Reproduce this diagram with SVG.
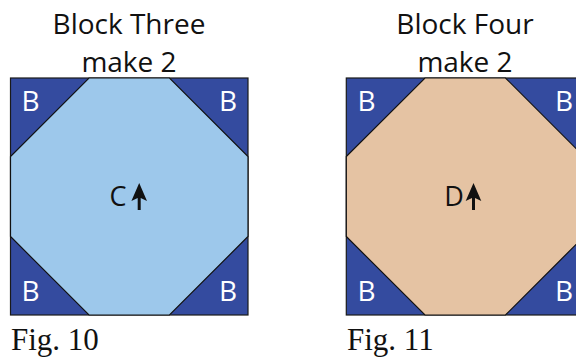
<svg xmlns="http://www.w3.org/2000/svg" width="576" height="358" viewBox="0 0 576 358">
<style>
.t{font-family:"Open Sans","Noto Sans",sans-serif;font-size:28px;fill:#111;text-anchor:middle}
.b{font-family:"Open Sans","Noto Sans",sans-serif;font-size:28px;fill:#fff;text-anchor:middle}
.l{font-family:"Open Sans","Noto Sans",sans-serif;font-size:27px;fill:#111;text-anchor:middle}
.f{font-family:"Liberation Serif",serif;font-size:31px;fill:#111}
.sq{fill:#344b9f;stroke:#1a1a1a;stroke-width:1.2}
.cut{stroke:#111;stroke-width:1.2}
</style>
<defs>
<path id="arr" d="M0,-13.5 L7.8,4.5 L1.5,1.5 L1.5,13.5 L-1.5,13.5 L-1.5,1.5 L-7.8,4.5 Z" fill="#111"/>
</defs>
<g id="block3">
<text class="t" x="129" y="34">Block Three</text>
<text class="t" x="129" y="72">make 2</text>
<rect class="sq" x="10.5" y="78" width="237.5" height="237"/>
<polygon class="cut" fill="#9dc8eb" points="89,78 169.5,78 248,156.5 248,236.5 169.5,315 89,315 10.5,236.5 10.5,156.5"/>
<text class="b" x="30.5" y="111">B</text>
<text class="b" x="228" y="111">B</text>
<text class="b" x="30.5" y="301">B</text>
<text class="b" x="228" y="301">B</text>
<text class="l" x="118" y="206">C</text>
<use href="#arr" x="139.2" y="196.5"/>
<text class="f" x="11" y="350">Fig. 10</text>
</g>
<g id="block4">
<text class="t" x="465" y="34">Block Four</text>
<text class="t" x="465" y="72">make 2</text>
<rect class="sq" x="346.3" y="78" width="237.5" height="237"/>
<polygon class="cut" fill="#e5c3a3" points="425,78 505.5,78 584,156.5 584,236.5 505.5,315 425,315 346.3,236.5 346.3,156.5"/>
<text class="b" x="366.5" y="111">B</text>
<text class="b" x="564" y="111">B</text>
<text class="b" x="366.5" y="301">B</text>
<text class="b" x="564" y="301">B</text>
<text class="l" x="454" y="206">D</text>
<use href="#arr" x="473.5" y="196.5"/>
<text class="f" x="347" y="350">Fig. 11</text>
</g>
</svg>
